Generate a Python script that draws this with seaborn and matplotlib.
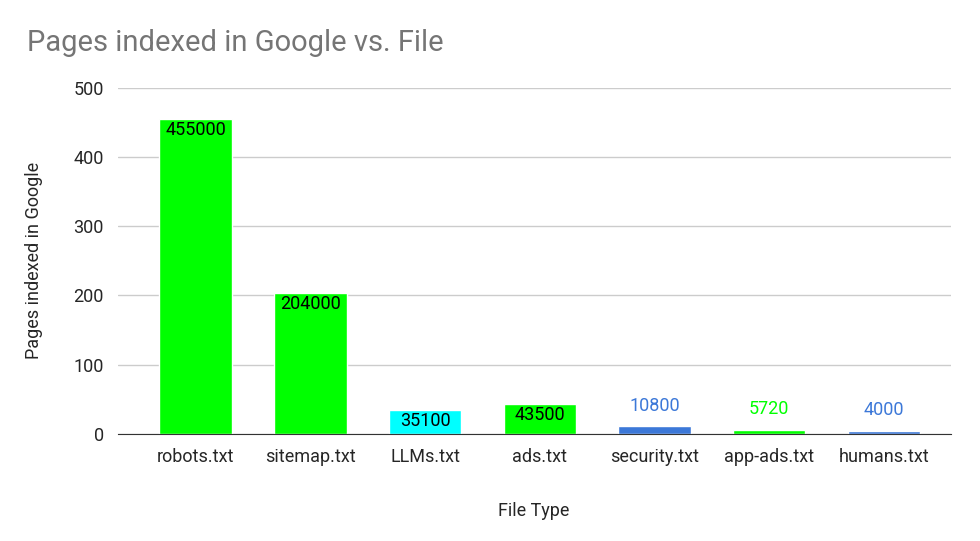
import matplotlib.pyplot as plt
import pandas as pd
import seaborn as sns

# Data
files = ['robots.txt', 'sitemap.txt', 'LLMs.txt', 'ads.txt', 'security.txt', 'app-ads.txt', 'humans.txt']
pages = [455000, 204000, 35100, 43500, 10800, 5720, 4000]
colors = ['#00ff00', '#00ff00', '#00ffff', '#00ff00', '#3c78d8', '#00ff00', '#3c78d8']

df = pd.DataFrame({'File Type': files, 'Pages': [p / 1000 for p in pages]})

sns.set_style('white')
plt.rcParams['font.family'] = ['Roboto', 'DejaVu Sans']

fig = plt.figure(figsize=(9.8, 5.41), dpi=100)
ax = fig.add_axes([0.12, 0.198, 0.85, 0.64])

sns.barplot(data=df, x='File Type', y='Pages', hue='File Type', palette=colors,
            legend=False, width=0.63, ax=ax, saturation=1)

# Data labels: inside top for tall bars, above for short ones
for i, p in enumerate(pages):
    h = p / 1000
    if h > 30:
        ax.text(i, h - 3, str(p), ha='center', va='top', fontsize=13, color='black')
    else:
        ax.text(i, h + 30, str(p), ha='center', va='center', fontsize=13, color=colors[i])

ax.set_xlim(-0.68, 6.58)
ax.set_ylim(0, 500)
ax.set_yticks([0, 100, 200, 300, 400, 500])
ax.yaxis.grid(True, color='#cccccc', linewidth=1)
ax.set_axisbelow(True)
for s in ['top', 'right', 'left']:
    ax.spines[s].set_visible(False)
ax.spines['bottom'].set_color('#333333')
ax.tick_params(axis='both', length=0, labelsize=13, pad=10)
ax.set_xlabel('File Type', fontsize=13, labelpad=26)
ax.set_ylabel('Pages indexed in Google', fontsize=13, labelpad=22)

fig.text(0.028, 0.92, 'Pages indexed in Google vs. File', fontsize=21, color='#757575', va='center')

plt.savefig('out.png', dpi=100)
